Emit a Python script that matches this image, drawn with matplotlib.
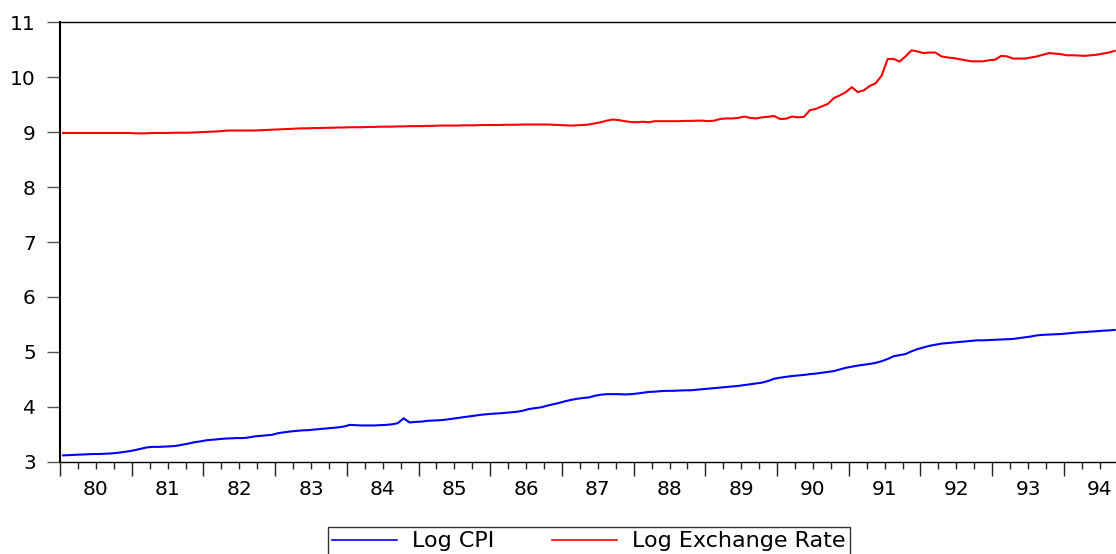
import numpy as np
import matplotlib.pyplot as plt
from matplotlib.ticker import MultipleLocator, FuncFormatter, NullFormatter

# monthly data, Jan 1980 - Sep 1994
start_year = 1980

log_cpi = [
    # 1980
    3.115, 3.12, 3.125, 3.13, 3.135, 3.14, 3.14, 3.145, 3.15, 3.16, 3.175, 3.19,
    # 1981
    3.21, 3.235, 3.26, 3.27, 3.27, 3.275, 3.28, 3.29, 3.31, 3.33, 3.355, 3.37,
    # 1982
    3.39, 3.40, 3.41, 3.42, 3.425, 3.43, 3.43, 3.44, 3.46, 3.47, 3.48, 3.49,
    # 1983
    3.52, 3.535, 3.55, 3.56, 3.57, 3.575, 3.585, 3.595, 3.605, 3.615, 3.625, 3.64,
    # 1984
    3.67, 3.665, 3.66, 3.66, 3.66, 3.665, 3.67, 3.68, 3.70, 3.79, 3.715, 3.725,
    # 1985
    3.73, 3.745, 3.75, 3.755, 3.765, 3.78, 3.795, 3.81, 3.825, 3.84, 3.855, 3.865,
    # 1986
    3.875, 3.88, 3.89, 3.90, 3.91, 3.93, 3.96, 3.975, 3.99, 4.02, 4.045, 4.07,
    # 1987
    4.10, 4.125, 4.145, 4.16, 4.17, 4.20, 4.22, 4.23, 4.23, 4.23, 4.225, 4.23,
    # 1988
    4.24, 4.255, 4.27, 4.275, 4.285, 4.29, 4.29, 4.295, 4.30, 4.30, 4.31, 4.32,
    # 1989
    4.33, 4.34, 4.35, 4.36, 4.37, 4.38, 4.395, 4.41, 4.425, 4.44, 4.47, 4.51,
    # 1990
    4.53, 4.545, 4.56, 4.57, 4.58, 4.595, 4.605, 4.62, 4.635, 4.65, 4.68, 4.71,
    # 1991
    4.73, 4.75, 4.765, 4.78, 4.80, 4.83, 4.87, 4.92, 4.94, 4.96, 5.01, 5.05,
    # 1992
    5.08, 5.11, 5.13, 5.15, 5.16, 5.17, 5.18, 5.19, 5.20, 5.21, 5.21, 5.215,
    # 1993
    5.22, 5.225, 5.23, 5.235, 5.25, 5.265, 5.28, 5.30, 5.31, 5.315, 5.32, 5.325,
    # 1994
    5.335, 5.345, 5.355, 5.36, 5.37, 5.375, 5.385, 5.39, 5.40,
]

log_exrate = [
    # 1980
    8.985, 8.985, 8.985, 8.985, 8.985, 8.985, 8.985, 8.985, 8.985, 8.985, 8.985, 8.985,
    # 1981
    8.98, 8.978, 8.98, 8.985, 8.985, 8.985, 8.988, 8.99, 8.99, 8.99, 8.995, 9.0,
    # 1982
    9.005, 9.01, 9.015, 9.025, 9.03, 9.03, 9.03, 9.03, 9.03, 9.035, 9.04, 9.045,
    # 1983
    9.05, 9.055, 9.06, 9.065, 9.07, 9.07, 9.075, 9.075, 9.08, 9.08, 9.085, 9.085,
    # 1984
    9.09, 9.09, 9.09, 9.095, 9.095, 9.10, 9.10, 9.10, 9.105, 9.105, 9.11, 9.11,
    # 1985
    9.11, 9.115, 9.115, 9.12, 9.12, 9.12, 9.12, 9.125, 9.125, 9.125, 9.13, 9.13,
    # 1986
    9.13, 9.13, 9.135, 9.135, 9.135, 9.14, 9.14, 9.14, 9.14, 9.14, 9.135, 9.13,
    # 1987
    9.125, 9.12, 9.125, 9.13, 9.14, 9.16, 9.18, 9.21, 9.23, 9.22, 9.20, 9.185,
    # 1988
    9.18, 9.19, 9.18, 9.20, 9.20, 9.20, 9.20, 9.20, 9.205, 9.205, 9.21, 9.21,
    # 1989
    9.20, 9.21, 9.24, 9.25, 9.25, 9.26, 9.285, 9.26, 9.25, 9.27, 9.28, 9.295,
    # 1990
    9.24, 9.245, 9.285, 9.27, 9.28, 9.40, 9.425, 9.47, 9.515, 9.62, 9.67, 9.73,
    # 1991
    9.82, 9.73, 9.76, 9.84, 9.89, 10.03, 10.33, 10.335, 10.285, 10.38, 10.49, 10.47,
    # 1992
    10.44, 10.45, 10.45, 10.38, 10.36, 10.35, 10.33, 10.31, 10.29, 10.29, 10.29, 10.31,
    # 1993
    10.32, 10.39, 10.38, 10.34, 10.34, 10.34, 10.36, 10.38, 10.41, 10.44, 10.43, 10.42,
    # 1994
    10.40, 10.40, 10.395, 10.39, 10.40, 10.41, 10.43, 10.45, 10.48,
]

months = np.arange(len(log_cpi))
t = start_year + (months + 0.5) / 12

fig = plt.figure(figsize=(11.16, 5.54), dpi=100)
ax = fig.add_axes([0.0538, 0.1666, 0.9477, 0.7931])

ax.plot(t, log_cpi, color='#0000ff', lw=1.5, label='Log CPI')
ax.plot(t, log_exrate, color='#ff0000', lw=1.5, label='Log Exchange Rate')

ax.set_xlim(1980, 1994.75)
ax.set_ylim(3, 11)

ax.spines['right'].set_visible(False)
ax.spines['left'].set_linewidth(1.5)
ax.spines['top'].set_linewidth(1.0)
ax.spines['bottom'].set_linewidth(1.0)

# year boundaries get long ticks, quarters short ones, label in the middle of the year
ax.xaxis.set_major_locator(MultipleLocator(1))
ax.xaxis.set_major_formatter(NullFormatter())
ax.xaxis.set_minor_locator(MultipleLocator(0.25))
ax.xaxis.set_minor_formatter(FuncFormatter(
    lambda x, pos: f"{int(x) % 100:02d}" if abs(x % 1 - 0.5) < 0.01 else ""))
ax.yaxis.set_major_locator(MultipleLocator(1))

ax.tick_params(axis='x', which='major', direction='out', length=10, width=1, color='#222222')
ax.tick_params(axis='x', which='minor', direction='out', length=5, width=1, color='#222222',
               pad=8, labelsize=14.5)
ax.tick_params(axis='y', direction='out', length=9.4, width=1, color='#555555',
               pad=8, labelsize=14.5)

leg = ax.legend(loc='upper center', bbox_to_anchor=(0.5, -0.1486), ncol=2,
                fancybox=False, edgecolor='black', fontsize=16, handlelength=2.9,
                handletextpad=0.7, columnspacing=2.6, borderpad=0.2, borderaxespad=0)
leg.get_frame().set_linewidth(1.0)
for line in leg.get_lines():
    line.set_linewidth(1.2)

fig.savefig('out.png', dpi=100)
